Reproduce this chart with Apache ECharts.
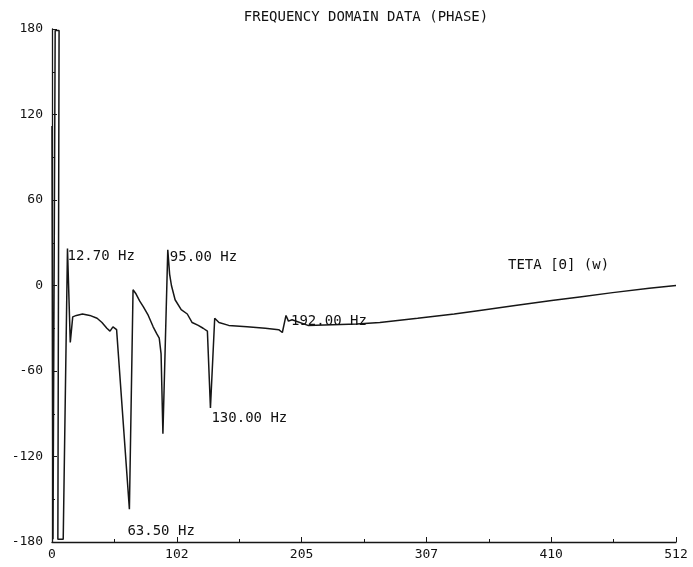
<!DOCTYPE html>
<html>
<head>
<meta charset="utf-8">
<script src="https://cdn.jsdelivr.net/npm/echarts@6/dist/echarts.min.js"></script>
<style>
  html, body { margin: 0; padding: 0; background: #ffffff; }
  #chart { width: 693px; height: 567px; }
</style>
</head>
<body>
<div id="chart"></div>
<script>
// Phase response, sampled along the frequency index axis (0..512)
const freqs = [
  0, 0.8, 2.6, 5.8, 4.8, 9.2, 12.7, 15, 17, 20, 25, 31, 37, 41, 45, 47.6, 50, 53,
  63.5, 66.5, 69, 72, 75, 79, 83, 86, 88, 89.5, 91, 95, 96.5, 98, 101, 106, 111,
  115, 120, 124, 127.5, 130, 133.5, 137, 145, 160, 175, 186, 189, 192, 194, 197,
  210, 230, 250, 269, 300, 330, 351, 380, 410, 433, 460, 490, 512
];
const phase = [
  112, -178, 179, 179, -178, -178, 26, -40, -22, -21, -20, -21, -23, -26, -30, -32, -29, -31,
  -157, -3, -6, -11, -15, -21, -29, -34, -37, -48, -104, 25, 8, 0, -10, -17, -20,
  -26, -28, -30, -32, -86, -23, -26, -28, -29, -30, -31, -33, -21, -25, -24,
  -28, -27.5, -27, -26, -23, -20, -17.5, -14, -10.5, -8, -5, -2, 0
];

// Annotated resonance frequencies (Hz)
const markerFreqs = [12.7, 63.5, 95, 130, 192];

// Axis tick labels
const xTicks = [0, 102, 205, 307, 410, 512];
const yTicks = [-180, -120, -60, 0, 60, 120, 180];

const titleText = 'FREQUENCY DOMAIN DATA (PHASE)';
const curveName = 'TETA [Θ] (w)';

// Label placement next to each annotated point (pixels)
const labelOffsets = [[0, 8], [-2, 22], [2, 7], [1, 10], [5, 6]];

const series = freqs.map((f, i) => [f, phase[i]]);
const markers = markerFreqs.map((f, k) => {
  const i = freqs.indexOf(f);
  return {
    value: [f, phase[i]],
    label: {
      show: true,
      formatter: f.toFixed(2) + ' Hz',
      offset: labelOffsets[k]
    }
  };
});

const ink = '#161616';
const textInk = '#111111';
const monoFont = '"DejaVu Sans Mono", monospace';

const chart = echarts.init(document.getElementById('chart'), null, { renderer: 'canvas' });
chart.setOption({
  animation: false,
  backgroundColor: '#ffffff',
  grid: { left: 52, right: 17, top: 29, bottom: 25, containLabel: false },
  xAxis: {
    type: 'value',
    min: xTicks[0],
    max: xTicks[xTicks.length - 1],
    interval: (xTicks[xTicks.length - 1] - xTicks[0]) / (xTicks.length - 1),
    splitLine: { show: false },
    axisLine: { show: true, onZero: false, lineStyle: { color: ink, width: 1.3 } },
    axisTick: { show: true, inside: true, length: 5, lineStyle: { color: ink, width: 1 } },
    minorTick: { show: true, splitNumber: 2, length: 3, lineStyle: { color: ink, width: 1 } },
    axisLabel: {
      color: textInk, fontFamily: monoFont, fontSize: 13, margin: 6,
      showMinLabel: true, showMaxLabel: true,
      formatter: v => String(Math.round(v))
    }
  },
  yAxis: {
    type: 'value',
    min: yTicks[0],
    max: yTicks[yTicks.length - 1],
    interval: yTicks[1] - yTicks[0],
    splitLine: { show: false },
    axisLine: { show: true, onZero: false, lineStyle: { color: ink, width: 1.3 } },
    axisTick: { show: true, inside: true, length: 5, lineStyle: { color: ink, width: 1 } },
    minorTick: { show: true, splitNumber: 2, length: 3, lineStyle: { color: ink, width: 1 } },
    axisLabel: {
      color: textInk, fontFamily: monoFont, fontSize: 13, margin: 9,
      formatter: v => String(Math.round(v))
    }
  },
  graphic: [
    {
      type: 'text',
      position: [366, 10],
      style: { text: titleText, fill: textInk, font: '14px ' + monoFont, textAlign: 'center' }
    },
    {
      type: 'text',
      position: [508, 258],
      style: { text: curveName, fill: textInk, font: '14px ' + monoFont }
    }
  ],
  series: [
    {
      type: 'line',
      data: series,
      showSymbol: false,
      symbol: 'none',
      lineStyle: { color: ink, width: 1.5 },
      clip: false,
      z: 3
    },
    {
      type: 'scatter',
      data: markers,
      symbol: 'circle',
      symbolSize: 0,
      itemStyle: { color: textInk, opacity: 1 },
      label: {
        show: true,
        position: 'right',
        distance: 0,
        color: textInk,
        opacity: 1,
        fontFamily: monoFont,
        fontSize: 14
      },
      z: 4
    }
  ]
});
</script>
</body>
</html>
